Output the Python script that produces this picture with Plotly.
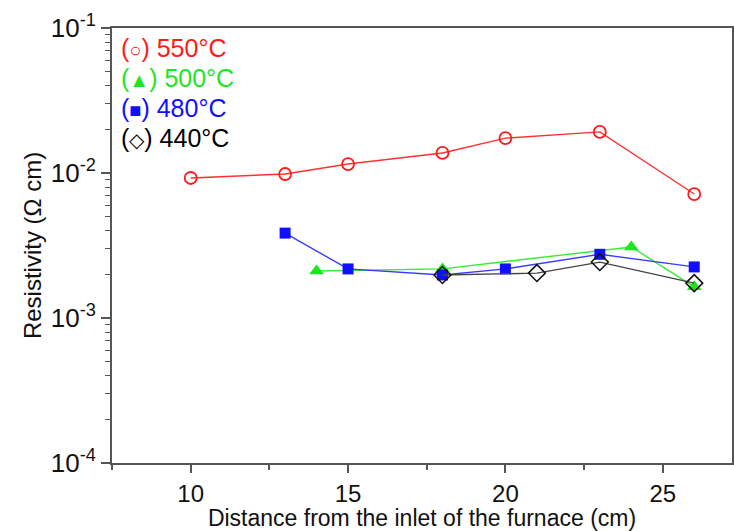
import plotly.graph_objects as go

# Data
x550 = [10, 13, 15, 18, 20, 23, 26]
y550 = [0.00924, 0.00984, 0.01153, 0.01375, 0.0174, 0.0192, 0.00716]

x500 = [14, 18, 24, 26]
y500 = [0.00211, 0.00218, 0.00309, 0.00164]

x480 = [13, 15, 18, 20, 23, 26]
y480 = [0.00385, 0.00218, 0.00198, 0.00218, 0.00275, 0.00225]

x440 = [18, 21, 23, 26]
y440 = [0.00198, 0.00204, 0.00243, 0.00174]

labels = ["550°C", "500°C", "480°C", "440°C"]
symbols_txt = ["○", "▲", "■", "◇"]
colors = ["#ff1a1a", "#1ee61e", "#1010ff", "#000000"]

y_tickvals = [1e-4, 1e-3, 1e-2, 1e-1]
y_ticktext = ["10<sup>-4</sup>", "10<sup>-3</sup>", "10<sup>-2</sup>", "10<sup>-1</sup>"]
x_tickvals = [10, 15, 20, 25]

fig = go.Figure()

fig.add_trace(go.Scatter(x=x500, y=y500, mode="lines+markers",
                         line=dict(color="#33ee33", width=1.4),
                         marker=dict(symbol="triangle-up", size=13, color="#1ee61e"),
                         showlegend=False))
fig.add_trace(go.Scatter(x=x480, y=y480, mode="lines+markers",
                         line=dict(color="#3a3aff", width=1.4),
                         marker=dict(symbol="square", size=11, color="#1010ff"),
                         showlegend=False))
fig.add_trace(go.Scatter(x=x440, y=y440, mode="lines+markers",
                         line=dict(color="#444444", width=1.4),
                         marker=dict(symbol="diamond-open", size=13, color="#111111",
                                     line=dict(width=1.5)),
                         showlegend=False))
fig.add_trace(go.Scatter(x=x550, y=y550, mode="lines+markers",
                         line=dict(color="#ff3030", width=1.4),
                         marker=dict(symbol="circle-open", size=12, color="#ff1a1a",
                                     line=dict(width=1.8)),
                         showlegend=False))

# Legend as annotations
leg_y = [48, 78, 108, 138]
for lab, sym, col, py in zip(labels, symbols_txt, colors, leg_y):
    fig.add_annotation(
        xref="paper", yref="paper",
        x=(119 - 112) / 622, y=1 - (py - 28) / 435,
        xanchor="left", yanchor="middle",
        text="(<span style='font-size:20px'>" + sym + "</span>) " + lab,
        showarrow=False,
        font=dict(family="Liberation Sans, Arial, sans-serif", size=25, color=col),
    )

minor_y = [k * 10 ** e for e in (-4, -3, -2) for k in range(2, 10)]

fig.update_xaxes(
    range=[7.5, 27.2],
    tickvals=x_tickvals,
    ticks="outside", ticklen=8, tickwidth=1.5, tickcolor="#555555",
    showline=True, linecolor="#555555", linewidth=2, mirror=True,
    showgrid=False, zeroline=False,
    minor=dict(tickvals=[7.5, 12.5, 17.5, 22.5, 27.5], ticks="outside", ticklen=5,
               tickwidth=1.5, tickcolor="#555555", showgrid=False),
    tickfont=dict(size=24, color="#111111"),
    ticklabelstandoff=0,
    title=dict(text="Distance from the inlet of the furnace (cm)",
               font=dict(size=23, color="#111111"), standoff=4),
)
fig.update_yaxes(
    type="log", range=[-4, -1],
    tickvals=y_tickvals, ticktext=y_ticktext,
    ticks="outside", ticklen=9, tickwidth=1.5, tickcolor="#555555",
    showline=True, linecolor="#555555", linewidth=2, mirror=True,
    showgrid=False, zeroline=False,
    minor=dict(tickvals=minor_y, ticks="outside", ticklen=5, tickwidth=1.2,
               tickcolor="#555555", showgrid=False),
    tickfont=dict(size=26, color="#111111"),
    title=dict(text="Resistivity (Ω cm)", font=dict(size=24, color="#111111"), standoff=2),
)

fig.update_layout(
    width=734, height=531,
    margin=dict(l=112, r=0, t=28, b=68),
    paper_bgcolor="white", plot_bgcolor="white",
    font=dict(family="Liberation Sans, Arial, sans-serif"),
)

fig.write_html("out.html")
